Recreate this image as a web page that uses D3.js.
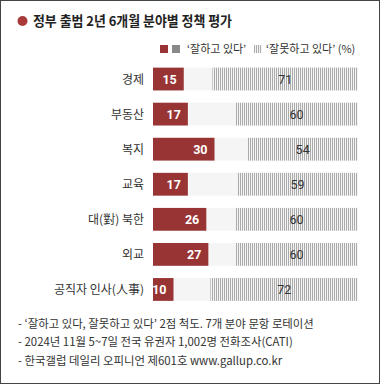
<!DOCTYPE html>
<html><head><meta charset="utf-8">
<script src="https://cdn.jsdelivr.net/npm/d3@7"></script>
<style>
html,body{margin:0;padding:0;background:#fff;}
svg{display:block;font-family:"Noto Sans CJK KR","Noto Sans",sans-serif;}
</style></head>
<body>
<svg id="c" width="380" height="384"></svg>
<script>
const categories = ["경제","부동산","복지","교육","대(對) 북한","외교","공직자 인사(人事)"];
const goodValues = [15,17,30,17,26,27,10];
const badValues  = [71,60,54,59,60,60,72];
const title = "정부 출범 2년 6개월 분야별 정책 평가";
const legendGood = "‘잘하고 있다’";
const legendBad = "‘잘못하고 있다’ (%)";
const notes = [
  "- ‘잘하고 있다, 잘못하고 있다’ 2점 척도. 7개 분야 문항 로테이션",
  "- 2024년 11월 5~7일 전국 유권자 1,002명 전화조사(CATI)",
  "- 한국갤럽 데일리 오피니언 제601호 www.gallup.co.kr"
];

const svg = d3.select("#c");
const red = "#983434", gray = "#8a8a8a";

const defs = svg.append("defs");
const pat = defs.append("pattern").attr("id","hatch").attr("patternUnits","userSpaceOnUse")
  .attr("width",2).attr("height",4);
pat.append("rect").attr("width",2).attr("height",4).attr("fill","#f4f4f4");
pat.append("rect").attr("width",1).attr("height",4).attr("fill","#ababab");

// border
svg.append("rect").attr("x",0.5).attr("y",0.5).attr("width",379).attr("height",383)
  .attr("fill","none").attr("stroke","#444").attr("stroke-width",1);

// title
svg.append("circle").attr("cx",22.5).attr("cy",21).attr("r",5).attr("fill","#a83a3a");
svg.append("text").attr("x",33).attr("y",25.5).attr("font-size",13.5).attr("font-weight",700)
  .attr("textLength",199).attr("lengthAdjust","spacingAndGlyphs")
  .attr("fill","#222").text(title);

// legend
const ly = 49;
svg.append("rect").attr("x",160).attr("y",ly-4).attr("width",8).attr("height",8).attr("fill",red);
svg.append("rect").attr("x",172).attr("y",ly-4).attr("width",8).attr("height",8).attr("fill",gray);
svg.append("text").attr("x",187).attr("y",ly+4).attr("font-size",11).attr("fill","#333").text(legendGood);
svg.append("rect").attr("x",254).attr("y",ly-4).attr("width",8).attr("height",8).attr("fill","url(#hatch)");
svg.append("text").attr("x",266).attr("y",ly+4).attr("font-size",11).attr("fill","#333").text(legendBad);

// scales
const x = d3.scaleLinear().domain([0,100]).range([153,358]);
const y = d3.scaleBand().domain(categories).range([61.5,307]).paddingInner(0.35).paddingOuter(0.175);
const data = categories.map((c,i)=>({c, g:goodValues[i], b:badValues[i]}));

const row = svg.append("g").selectAll("g").data(data).join("g");
row.append("rect").attr("x",x(0)).attr("y",d=>y(d.c)).attr("width",x(100)-x(0))
  .attr("height",y.bandwidth()).attr("fill","#f5f5f5");
row.append("rect").attr("x",d=>x(100-d.b)).attr("y",d=>y(d.c)).attr("width",d=>x(100)-x(100-d.b))
  .attr("height",y.bandwidth()).attr("fill","url(#hatch)");
row.append("rect").attr("x",x(0)).attr("y",d=>y(d.c)).attr("width",d=>x(d.g)-x(0))
  .attr("height",y.bandwidth()).attr("fill",red);
row.append("text").attr("x",d=>x(d.g)-7).attr("y",d=>y(d.c)+y.bandwidth()/2+4.5)
  .attr("text-anchor","end").attr("font-size",12.5).attr("font-weight",700).attr("fill","#fff")
  .attr("font-family","Roboto, 'Noto Sans', sans-serif").text(d=>d.g);
row.append("text").attr("x",d=>(x(100-d.b)+x(100))/2).attr("y",d=>y(d.c)+y.bandwidth()/2+4.5)
  .attr("text-anchor","middle").attr("font-size",12.5).attr("fill","#333")
  .attr("font-family","Roboto, 'Noto Sans', sans-serif").text(d=>d.b);
row.append("text").attr("x",144).attr("y",d=>y(d.c)+y.bandwidth()/2+4.5)
  .attr("text-anchor","end").attr("font-size",12).attr("fill","#333").text(d=>d.c);

// notes
svg.append("g").selectAll("text").data(notes).join("text")
  .attr("x",18).attr("y",(d,i)=>328+i*18.3).attr("font-size",11.4).attr("fill","#333").text(d=>d);
</script>
</body></html>
